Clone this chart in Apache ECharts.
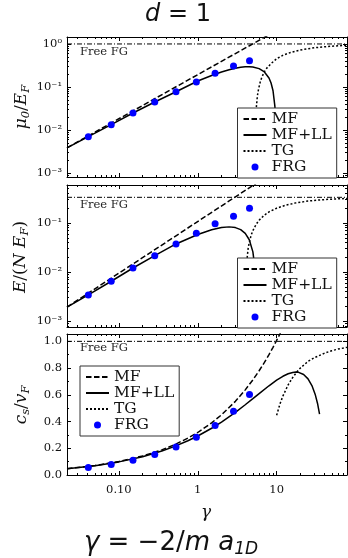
<!DOCTYPE html>
<html><head><meta charset="utf-8">
<script src="https://cdn.jsdelivr.net/npm/echarts@6/dist/echarts.min.js"></script>
<style>html,body{margin:0;padding:0;background:#fff}#c{width:348px;height:558px}</style>
</head><body><div id="c"></div>
<script>
// ---------- data ----------
const gammaMin = 0.022, gammaMax = 78;
const xMajorTicks = [0.1, 1, 10];
const xMajorLabels = ['0.10', '1', '10'];
const yLogTicks1 = [0.001, 0.01, 0.1, 1];
const yLogTicks2 = [0.001, 0.01, 0.1];
const yLogLabels = {'-3': '10⁻³', '-2': '10⁻²', '-1': '10⁻¹', '0': '10⁰'};
const yLinTicks = [0, 0.2, 0.4, 0.6, 0.8, 1.0];
const yLinMinor = [0.1, 0.3, 0.5, 0.7, 0.9];
const seriesNames = ['MF', 'MF+LL', 'TG', 'FRG'];

// panel 1: mu0/E_F
const mfMu = [[0.022, 0.0039], [10, 2.05]];
const llMu = [[0.022, 0.0039], [0.041, 0.0071], [0.08, 0.0134], [0.151, 0.0250], [0.285, 0.0450], [0.53, 0.0780],
  [1, 0.138], [1.5, 0.1855], [2, 0.223], [2.5, 0.2516], [3, 0.273], [3.5, 0.2869], [4, 0.2946], [4.5, 0.2962],
  [5, 0.292], [6, 0.268], [7, 0.224], [8, 0.162], [8.5, 0.124], [9, 0.082], [9.5, 0.036], [9.7, 0.017], [9.8, 0.007], [9.85, 0.002]];
const tgMu = [[5.36, 0.005], [5.42, 0.016], [5.5, 0.030], [5.7, 0.062], [5.9, 0.090], [6.2, 0.132], [6.5, 0.170], [7, 0.228],
  [7.5, 0.275], [8.5, 0.35], [10, 0.455], [12, 0.545], [15, 0.635], [20, 0.725], [30, 0.815], [45, 0.875], [60, 0.905], [78, 0.93]];
// panel 2: E/(N E_F)
const mfE = [[0.022, 0.00193], [8, 0.955]];
const llE = [[0.022, 0.00193], [0.041, 0.00342], [0.08, 0.0065], [0.151, 0.0121], [0.285, 0.0216], [0.53, 0.0374],
  [1, 0.0583], [1.5, 0.0730], [2, 0.0810], [2.5, 0.0833], [3, 0.0805], [3.5, 0.0731], [4, 0.0613], [4.5, 0.0455],
  [5, 0.0258], [5.3, 0.0123], [5.45, 0.0051], [5.52, 0.0016]];
const tgE = [[4.02, 0.0017], [4.1, 0.0085], [4.2, 0.0175], [4.35, 0.030], [4.5, 0.040], [4.75, 0.056], [5, 0.070],
  [5.5, 0.094], [6, 0.114], [7, 0.145], [8, 0.168], [10, 0.200], [13, 0.230], [17, 0.254], [25, 0.280], [35, 0.295], [50, 0.306], [78, 0.316]];
// panel 3: c_s/v_F
const mfC = [[0.022, 0.047], [0.05, 0.071], [0.1, 0.101], [0.2, 0.142], [0.35, 0.188], [0.5, 0.225], [0.75, 0.276],
  [1, 0.318], [1.5, 0.390], [2, 0.450], [3, 0.551], [4, 0.637], [5, 0.712], [6, 0.780], [7, 0.842], [8, 0.900],
  [9, 0.955], [10, 1.007], [11, 1.056], [12, 1.103]];
const llC = [[0.022, 0.0466], [0.05, 0.0699], [0.1, 0.0981], [0.2, 0.1372], [0.35, 0.1792], [0.5, 0.2121], [0.75, 0.256],
  [1, 0.2919], [1.5, 0.3498], [2, 0.3963], [3, 0.4692], [4, 0.5256], [5, 0.5713], [6, 0.6091], [8, 0.6676], [10, 0.7094],
  [12, 0.7386], [14, 0.7575], [16, 0.7675], [17.5, 0.7698], [19, 0.7679], [22, 0.7517], [25, 0.7192], [28, 0.669],
  [31, 0.5981], [33, 0.5354], [35, 0.4552]];
const tgC = [[10, 0.447], [11, 0.53], [12, 0.59], [14, 0.675], [16, 0.73], [18, 0.77], [20, 0.80], [25, 0.85],
  [30, 0.877], [40, 0.91], [50, 0.93], [60, 0.942], [78, 0.955]];
// FRG points
const frgGamma = [0.041, 0.080, 0.151, 0.285, 0.53, 0.96, 1.66, 2.84, 4.53];
const frgMu = [0.00706, 0.01342, 0.02506, 0.0451, 0.0782, 0.1313, 0.2089, 0.309, 0.410];
const frgE = [0.00342, 0.0065, 0.01212, 0.02158, 0.03735, 0.0617, 0.0968, 0.1369, 0.1992];
const frgC = [0.057, 0.078, 0.111, 0.153, 0.209, 0.282, 0.370, 0.477, 0.603];
const freeFG = [1, 1 / 3, 1];

// ---------- helpers ----------
const SERIF = 'DejaVu Serif';
const SANS = 'DejaVu Sans';
const AX = '#000';
function logMinor(lo, hi) {
  const v = [];
  for (let e = -4; e <= 2; e++) for (let m = 2; m <= 9; m++) {
    const x = +(m * Math.pow(10, e)).toPrecision(3);
    if (x > lo && x < hi) v.push(x);
  }
  return v;
}
const grids = [
  {left: 67, top: 37, width: 280, height: 140},
  {left: 67, top: 185, width: 280, height: 142},
  {left: 67, top: 334, width: 280, height: 141}
];
const yRanges = [
  {type: 'log', min: 0.00082, max: 1.45, major: yLogTicks1},
  {type: 'log', min: 0.00076, max: 0.594, major: yLogTicks2},
  {type: 'value', min: 0, max: 1.055, major: yLinTicks}
];
const xAxes = [], yAxes = [];
const tickLine = {color: AX, width: 1};
grids.forEach((g, gi) => {
  const xb = {type: 'log', logBase: 10, gridIndex: gi, min: gammaMin, max: gammaMax, splitLine: {show: false}, minorTick: {show: false}};
  const xMinor = logMinor(gammaMin, gammaMax);
  ['bottom', 'top'].forEach(pos => {
    xAxes.push(Object.assign({}, xb, {
      position: pos,
      axisLine: {show: true, onZero: false, lineStyle: {color: AX, width: 1}},
      axisTick: {show: true, inside: true, length: 4, customValues: xMajorTicks, lineStyle: tickLine},
      axisLabel: {show: gi === 2 && pos === 'bottom', customValues: xMajorTicks,
        formatter: v => xMajorLabels[xMajorTicks.findIndex(t => Math.abs(Math.log10(t) - Math.log10(v)) < 1e-6)],
        margin: 9, fontFamily: SERIF, fontSize: 11.5, color: '#111'}
    }));
    xAxes.push(Object.assign({}, xb, {
      position: pos,
      axisLine: {show: false, onZero: false},
      axisTick: {show: true, inside: true, length: 2, customValues: xMinor, lineStyle: tickLine},
      axisLabel: {show: false}
    }));
  });
  const yr = yRanges[gi];
  const yb = {type: yr.type, gridIndex: gi, min: yr.min, max: yr.max, splitLine: {show: false}, minorTick: {show: false}};
  if (yr.type === 'log') yb.logBase = 10;
  const yMinor = yr.type === 'log' ? logMinor(yr.min, yr.max) : yLinMinor;
  ['left', 'right'].forEach(pos => {
    yAxes.push(Object.assign({}, yb, {
      position: pos,
      axisLine: {show: true, onZero: false, lineStyle: {color: AX, width: 1}},
      axisTick: {show: true, inside: true, length: 4, customValues: yr.major, lineStyle: tickLine},
      axisLabel: {show: pos === 'left', customValues: yr.major,
        formatter: v => yr.type === 'log' ? yLogLabels[String(Math.round(Math.log10(v)))] : v.toFixed(1),
        margin: 5, fontFamily: SERIF, fontSize: 11.5, color: '#111'}
    }));
    yAxes.push(Object.assign({}, yb, {
      position: pos,
      axisLine: {show: false, onZero: false},
      axisTick: {show: true, inside: true, length: 2, customValues: yMinor, lineStyle: tickLine},
      axisLabel: {show: false}
    }));
  });
});

const DASH = [5.5, 2.5], DOT = [2, 2], DASHDOT = [5, 2, 1, 2];
function line(name, data, gi, type, width) {
  return {type: 'line', name, data, xAxisIndex: 4 * gi, yAxisIndex: 4 * gi, symbol: 'none', showSymbol: false,
    lineStyle: {color: '#000', width, type}, itemStyle: {color: '#000'}, clip: true, silent: true, animation: false, z: 2};
}
function frg(vals, gi) {
  return {type: 'scatter', name: 'FRG', data: frgGamma.map((g, i) => [g, vals[i]]), xAxisIndex: 4 * gi, yAxisIndex: 4 * gi,
    symbol: 'circle', symbolSize: 7, itemStyle: {color: '#0000ff', opacity: 1}, clip: true, silent: true, animation: false, z: 3};
}
function fgLine(gi) {
  return line('Free FG', [[gammaMin, freeFG[gi]], [gammaMax, freeFG[gi]]], gi, DASHDOT, 1);
}
const series = [
  fgLine(0), line('MF', mfMu, 0, DASH, 1.5), line('MF+LL', llMu, 0, 'solid', 1.5), line('TG', tgMu, 0, DOT, 1.5), frg(frgMu, 0),
  fgLine(1), line('MF', mfE, 1, DASH, 1.5), line('MF+LL', llE, 1, 'solid', 1.5), line('TG', tgE, 1, DOT, 1.5), frg(frgE, 1),
  fgLine(2), line('MF', mfC, 2, DASH, 1.5), line('MF+LL', llC, 2, 'solid', 1.5), line('TG', tgC, 2, DOT, 1.5), frg(frgC, 2)
];
const hideSym = {opacity: 0, color: 'rgba(0,0,0,0)', borderWidth: 0};
function legend(left, top) {
  return {orient: 'vertical', left, top,
    data: seriesNames.map(n => n === 'FRG' ? {name: n} : {name: n, itemStyle: hideSym}),
    itemWidth: 23, itemHeight: 7, itemGap: 0,
    padding: [3, 5, 3, 5], backgroundColor: '#fff', borderColor: '#333', borderWidth: 1, borderRadius: 0,
    selectedMode: false, z: 10,
    textStyle: {fontFamily: SERIF, fontSize: 15.5, color: '#111', lineHeight: 14}};
}
const ital = (f, s) => ({fontFamily: f, fontStyle: 'italic', fontSize: s, lineHeight: s + 4, verticalAlign: 'middle', fill: '#111'});
const norm = (f, s) => ({fontFamily: f, fontSize: s, lineHeight: s + 4, verticalAlign: 'middle', fill: '#111'});
const sub = (f, s) => ({fontFamily: f, fontStyle: 'italic', fontSize: s, lineHeight: s, verticalAlign: 'bottom', fill: '#111'});
function gtext(x, y, text, rich, rot) {
  return {type: 'text', x, y, rotation: rot || 0, silent: true, z: 20,
    style: {text, rich, align: 'center', verticalAlign: 'middle', fill: '#111'}};
}
const yRich = {i: ital(SERIF, 17), n: norm(SERIF, 17), s: sub(SERIF, 11.5)};
const graphic = [
  gtext(178, 15, '{i|d}{n| = 1}', {i: ital(SANS, 24), n: norm(SANS, 24)}),
  gtext(22, 107, '{i|μ}{s|0}{n|/}{i|E}{s|F}', yRich, Math.PI / 2),
  gtext(21, 257, '{i|E}{n|/(}{i|N E}{s|F}{n|)}', yRich, Math.PI / 2),
  gtext(22, 405, '{i|c}{s|s}{n|/}{i|v}{s|F}', yRich, Math.PI / 2),
  gtext(206, 513, '{i|γ}', {i: ital(SERIF, 17)}),
  gtext(171, 543, '{i|γ}{n| = −2/}{i|m}{n| }{i|a}{s|1D}', {i: ital(SANS, 26), n: norm(SANS, 26), s: sub(SANS, 17)})
];
[52, 205, 348].forEach(y => graphic.push({type: 'text', x: 104, y, silent: true, z: 20,
  style: {text: 'Free FG', fontFamily: SERIF, fontSize: 11.5, fill: '#222', align: 'center', verticalAlign: 'middle'}}));

const chart = echarts.init(document.getElementById('c'), null, {renderer: 'canvas'});
chart.setOption({
  animation: false,
  backgroundColor: '#fff',
  grid: grids,
  xAxis: xAxes,
  yAxis: yAxes,
  legend: [legend(237.5, 108), legend(237.5, 258), legend(80, 366)],
  series,
  graphic
});
</script></body></html>
